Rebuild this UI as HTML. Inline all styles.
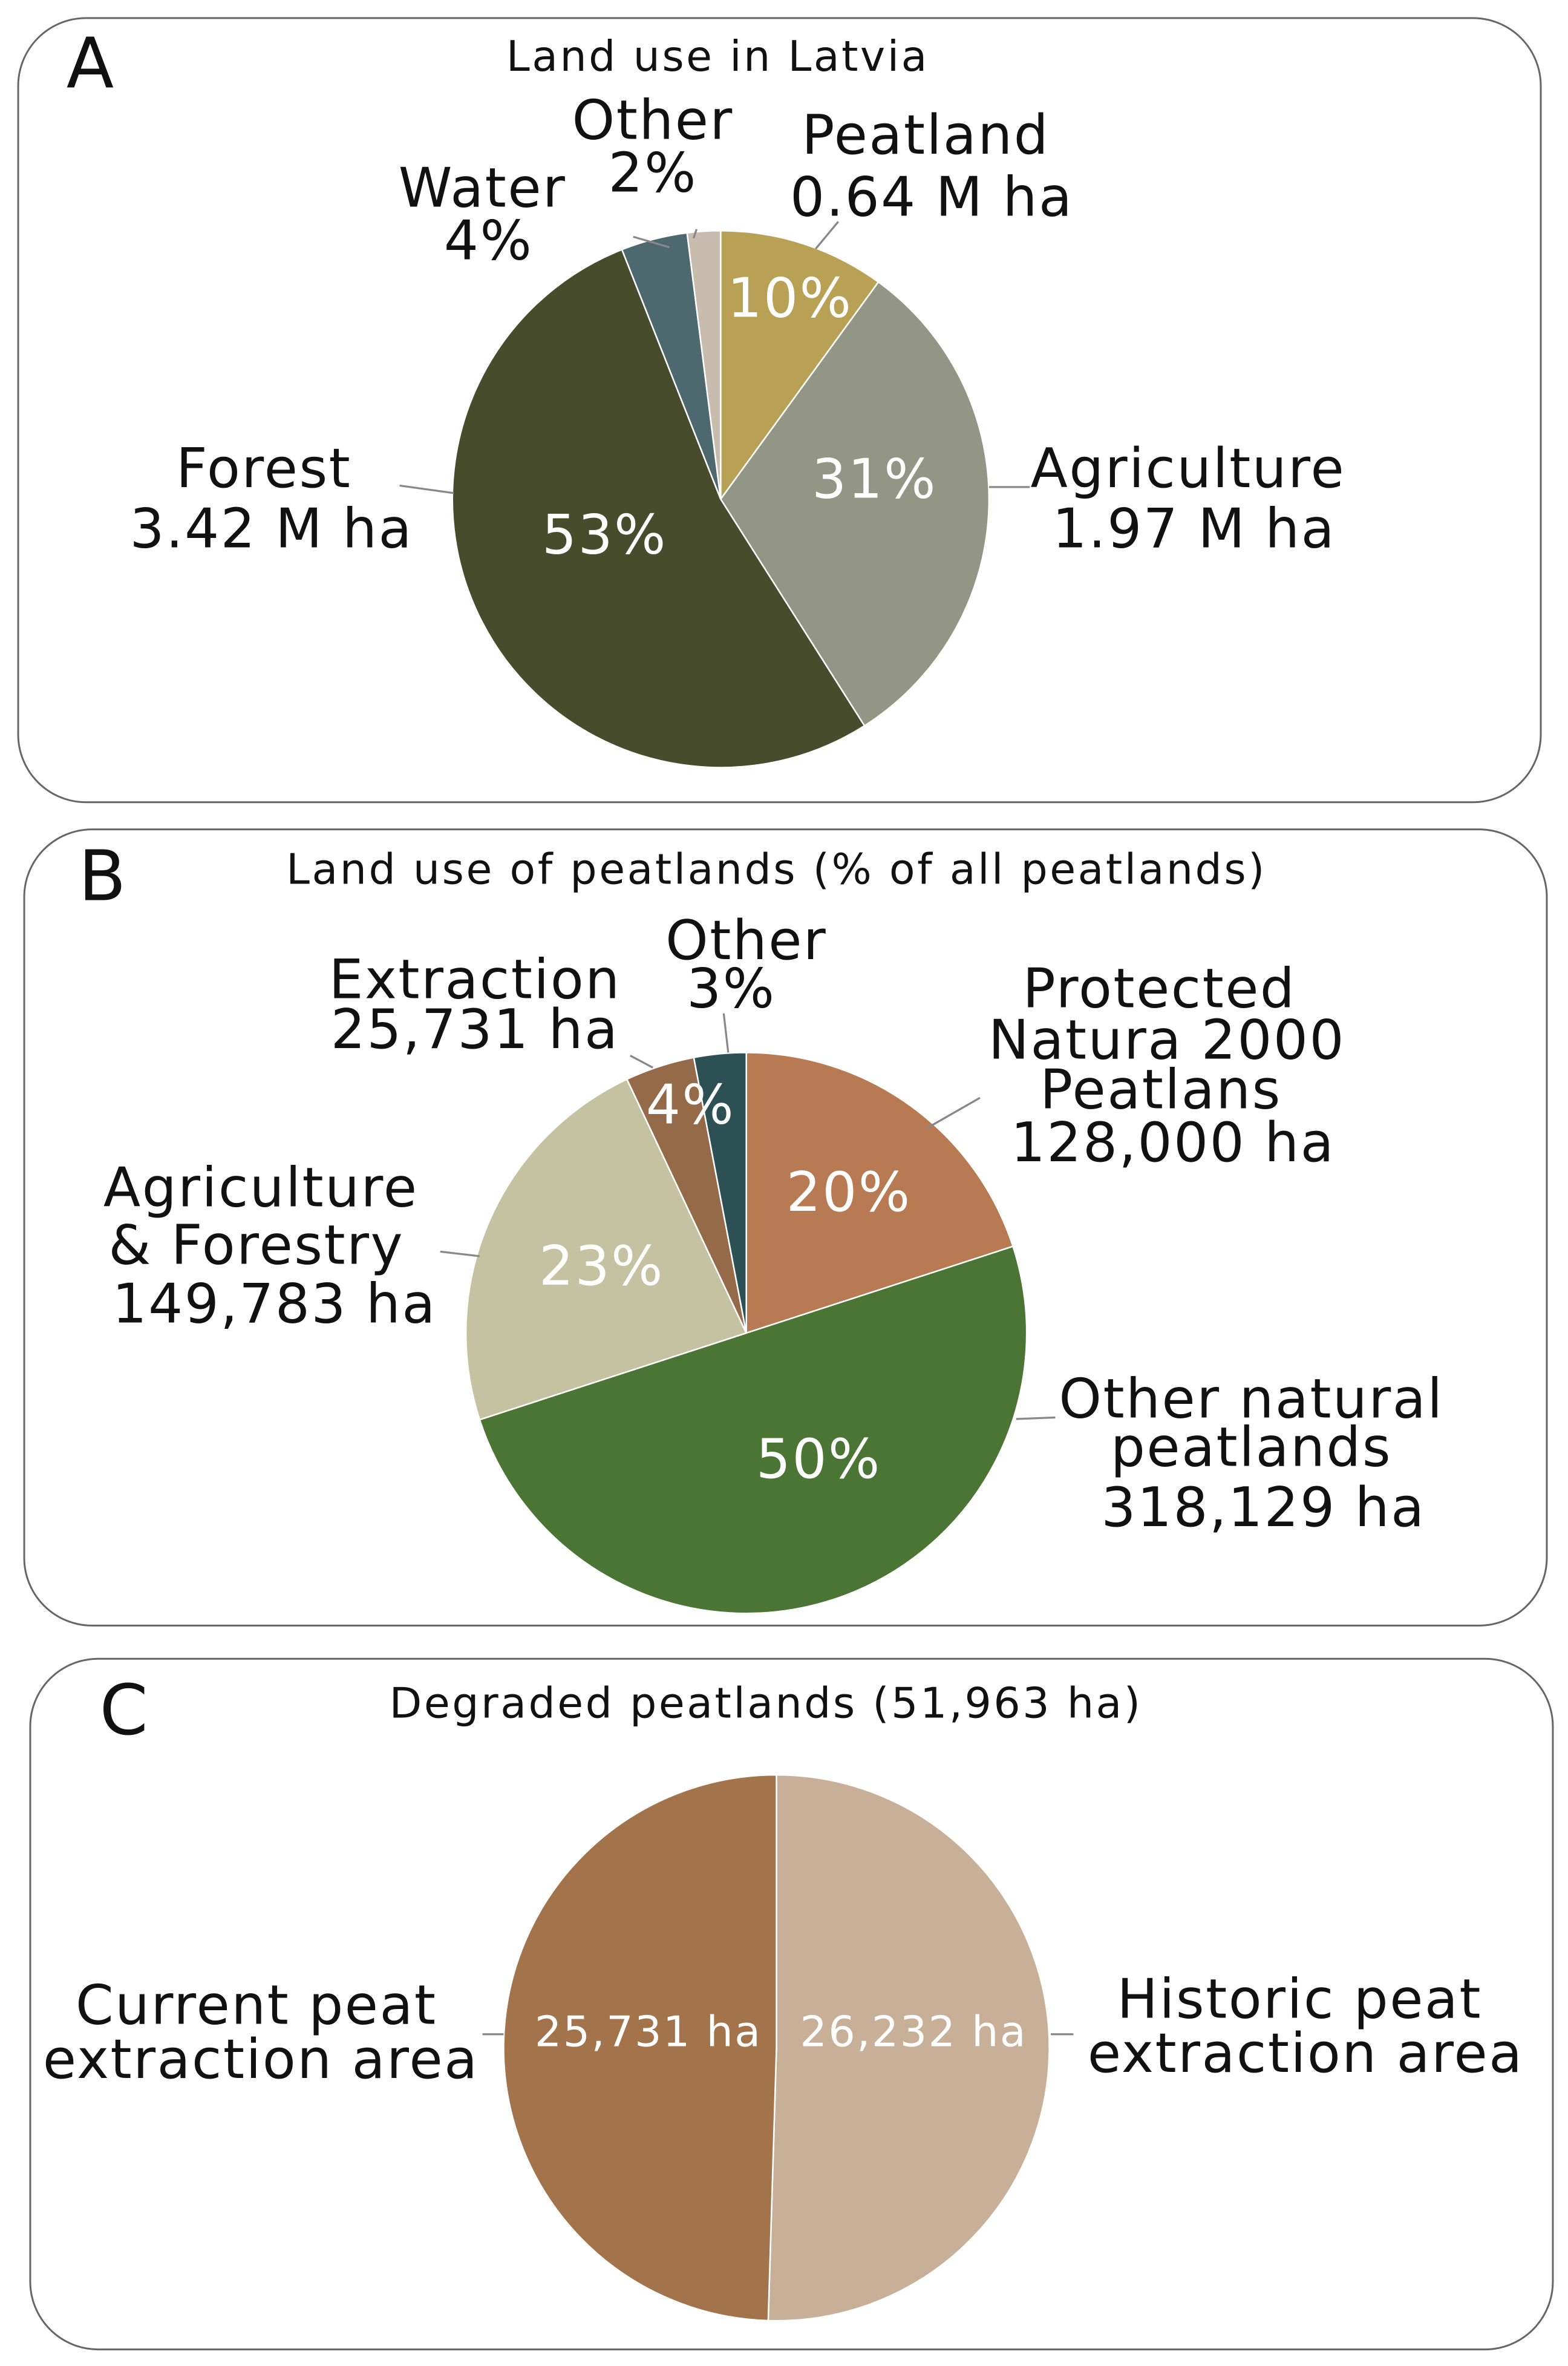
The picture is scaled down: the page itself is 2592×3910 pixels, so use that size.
<!DOCTYPE html>
<html><head><meta charset="utf-8"><style>
html,body{margin:0;padding:0;background:#fff}
svg{display:block}
text{font-family:"DejaVu Sans","Liberation Sans",sans-serif;fill:#111;letter-spacing:1px}
.ttl{letter-spacing:1.4px}
</style></head><body>
<svg id="fig" width="2592" height="3910" viewBox="0 0 1040 1569" xmlns="http://www.w3.org/2000/svg">
<rect x="12" y="12" width="1010" height="520" rx="45" fill="#fff" stroke="#666" stroke-width="1.2"/>
<rect x="16" y="550" width="1010" height="528" rx="45" fill="#fff" stroke="#666" stroke-width="1.2"/>
<rect x="20" y="1100" width="1010" height="458" rx="45" fill="#fff" stroke="#666" stroke-width="1.2"/>
<text x="44" y="58" font-size="46">A</text>
<text x="52" y="597" font-size="46">B</text>
<text x="66" y="1150" font-size="46">C</text>
<text class="ttl" x="476" y="47" font-size="28" text-anchor="middle">Land use in Latvia</text>
<text class="ttl" x="515" y="586" font-size="28" text-anchor="middle">Land use of peatlands (% of all peatlands)</text>
<text class="ttl" x="508" y="1139" font-size="28" text-anchor="middle">Degraded peatlands (51,963 ha)</text>
<g id="pies"></g>
<g id="labels" font-size="36">
<text x="614" y="102" text-anchor="middle">Peatland</text>
<text x="618" y="143" text-anchor="middle">0.64 M ha</text>
<text x="433" y="92" text-anchor="middle">Other</text>
<text x="433" y="127" text-anchor="middle">2%</text>
<text x="320" y="137" text-anchor="middle">Water</text>
<text x="324" y="172" text-anchor="middle">4%</text>
<text x="175" y="323" text-anchor="middle">Forest</text>
<text x="180" y="363" text-anchor="middle">3.42 M ha</text>
<text x="788" y="323" text-anchor="middle">Agriculture</text>
<text x="792" y="363" text-anchor="middle">1.97 M ha</text>
<text x="315" y="662" text-anchor="middle">Extraction</text>
<text x="315" y="695" text-anchor="middle">25,731 ha</text>
<text x="495" y="636" text-anchor="middle">Other</text>
<text x="485" y="668" text-anchor="middle">3%</text>
<text x="769" y="668" text-anchor="middle">Protected</text>
<text x="774" y="702" text-anchor="middle">Natura 2000</text>
<text x="770" y="735" text-anchor="middle">Peatlans</text>
<text x="778" y="770" text-anchor="middle">128,000 ha</text>
<text x="173" y="800" text-anchor="middle">Agriculture</text>
<text x="170" y="838" text-anchor="middle">&amp; Forestry</text>
<text x="182" y="877" text-anchor="middle">149,783 ha</text>
<text x="830" y="940" text-anchor="middle">Other natural</text>
<text x="830" y="972" text-anchor="middle">peatlands</text>
<text x="838" y="1012" text-anchor="middle">318,129 ha</text>
<text x="170" y="1342" text-anchor="middle">Current peat</text>
<text x="173" y="1378" text-anchor="middle">extraction area</text>
<text x="862" y="1338" text-anchor="middle">Historic peat</text>
<text x="866" y="1374" text-anchor="middle">extraction area</text>
</g>
<g stroke="#888" stroke-width="1.3">
<line x1="541" y1="165" x2="556" y2="147"/>
<line x1="420" y1="157" x2="444" y2="164"/>
<line x1="460" y1="158" x2="462" y2="152"/>
<line x1="265" y1="322" x2="301" y2="327"/>
<line x1="656" y1="323" x2="683" y2="323"/>
<line x1="615" y1="748" x2="650" y2="728"/>
<line x1="292" y1="830" x2="318" y2="833"/>
<line x1="674" y1="941" x2="700" y2="940"/>
<line x1="418" y1="700" x2="433" y2="708"/>
<line x1="480" y1="672" x2="483" y2="698"/>
<line x1="320" y1="1349" x2="334" y2="1349"/>
<line x1="697" y1="1349" x2="712" y2="1349"/>
</g>
<g font-size="36" id="pcts">
<text x="524" y="210" text-anchor="middle" style="fill:#fff">10%</text>
<text x="580" y="330" text-anchor="middle" style="fill:#fff">31%</text>
<text x="401" y="367" text-anchor="middle" style="fill:#fff">53%</text>
<text x="563" y="803" text-anchor="middle" style="fill:#fff">20%</text>
<text x="543" y="980" text-anchor="middle" style="fill:#fff">50%</text>
<text x="399" y="852" text-anchor="middle" style="fill:#fff">23%</text>
<text x="458" y="745" text-anchor="middle" style="fill:#fff">4%</text>
<text x="430" y="1357" font-size="28" text-anchor="middle" style="fill:#fff">25,731 ha</text>
<text x="606" y="1357" font-size="28" text-anchor="middle" style="fill:#fff">26,232 ha</text>
</g>
</svg>
<script>
const aCategories = ['peatland','agriculture','forest','water','other'];
const aValues = [10, 31, 53, 4, 2];
const aColors = ['#b8a055','#939585','#474c2c','#4e6870','#c8bcae'];
const bCategories = ['protected','other-natural','agri-forestry','extraction','other'];
const bValues = [20, 50, 23, 4, 3];
const bColors = ['#b87a52','#4a7535','#c4c2a0','#946a48','#2d5055'];
const cCategories = ['historic','current'];
const cValues = [26232, 25731];
const cColors = ['#c8b098','#a3734c'];
const NS='http://www.w3.org/2000/svg';
const g=document.getElementById('pies');
function pie(name,cats,vals,cols,cx,cy,r){
  const tot=vals.reduce((a,b)=>a+b,0);let acc=0;
  vals.forEach((v,i)=>{
    const a0=acc/tot*2*Math.PI;acc+=v;const a1=acc/tot*2*Math.PI;
    const x0=cx+r*Math.sin(a0),y0=cy-r*Math.cos(a0),x1=cx+r*Math.sin(a1),y1=cy-r*Math.cos(a1);
    const large=(a1-a0)>Math.PI?1:0;
    const p=document.createElementNS(NS,'path');
    p.setAttribute('d',`M${cx},${cy} L${x0},${y0} A${r},${r} 0 ${large} 1 ${x1},${y1} Z`);
    p.setAttribute('fill',cols[i]);p.setAttribute('stroke','#fff');p.setAttribute('stroke-width','1');
    
    
    g.appendChild(p);
  });
}
pie('pie-a',aCategories,aValues,aColors,478,331,178);
pie('pie-b',bCategories,bValues,bColors,495,884,186);
pie('pie-c',cCategories,cValues,cColors,515,1358,181);
</script>
</body></html>
